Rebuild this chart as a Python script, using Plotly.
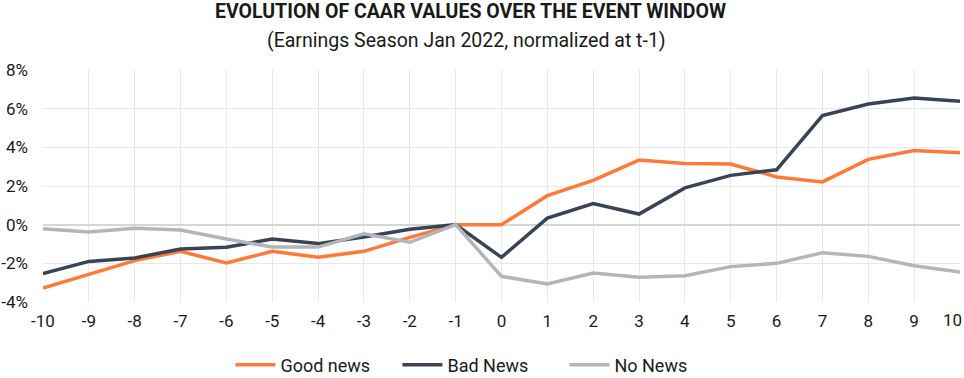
import plotly.graph_objects as go

event_days = list(range(-10, 11))
good_news = [-3.28, -2.59, -1.86, -1.38, -1.98, -1.38, -1.69, -1.38, -0.66, 0.0, 0.0,
             1.50, 2.29, 3.34, 3.17, 3.14, 2.47, 2.21, 3.38, 3.84, 3.72]
bad_news = [-2.53, -1.90, -1.72, -1.26, -1.17, -0.74, -0.98, -0.64, -0.24, 0.0, -1.69,
            0.34, 1.09, 0.55, 1.90, 2.55, 2.84, 5.64, 6.24, 6.55, 6.38]
no_news = [-0.21, -0.38, -0.19, -0.28, -0.74, -1.16, -1.16, -0.47, -0.91, 0.0, -2.67,
           -3.07, -2.50, -2.72, -2.64, -2.17, -2.00, -1.45, -1.64, -2.12, -2.45]
y_ticks = [-4, -2, 0, 2, 4, 6, 8]
y_tick_labels = ["-4%", "-2%", "0%", "2%", "4%", "6%", "8%"]
x_tick_labels = [str(d) for d in event_days]

fig = go.Figure()
fig.add_trace(go.Scatter(x=event_days, y=good_news, mode="lines", name="Good news",
                         line=dict(color="#FF7A38", width=3.5)))
fig.add_trace(go.Scatter(x=event_days, y=bad_news, mode="lines", name="Bad News",
                         line=dict(color="#3A4354", width=3.5)))
fig.add_trace(go.Scatter(x=event_days, y=no_news, mode="lines", name="No News",
                         line=dict(color="#B2B5BB", width=3.5)))

# last tick label is drawn inside the right edge, as in the original
axis_labels = x_tick_labels[:-1] + [""]

fig.update_layout(
    width=964, height=378,
    margin=dict(l=43, r=4, t=70, b=76),
    paper_bgcolor="white", plot_bgcolor="white",
    font=dict(family="Roboto", size=17, color="#1a1a1a"),
    xaxis=dict(range=[-10, 10], tickvals=event_days, ticktext=axis_labels, showgrid=True,
               gridcolor="#e8e8e8", gridwidth=1, zeroline=False, showline=False,
               ticks="", tickfont=dict(size=17), automargin=False,
               ticklabeloverflow="allow", ticklabelstandoff=7),
    yaxis=dict(range=[-4, 8], tickvals=y_ticks, ticktext=y_tick_labels, showgrid=True,
               gridcolor="#e8e8e8", gridwidth=1, zeroline=True, zerolinecolor="#d6d6d6",
               zerolinewidth=2, showline=False, ticks="", tickfont=dict(size=17),
               automargin=False, ticklabelstandoff=14, ticklabeloverflow="allow"),
    legend=dict(orientation="h", x=0.2044, xanchor="left",
                yref="container", y=1 - 365 / 378, yanchor="middle",
                font=dict(size=18), itemwidth=40, entrywidth=112, traceorder="normal"),
    showlegend=True,
    annotations=[
        dict(text="<b>EVOLUTION OF CAAR VALUES OVER THE EVENT WINDOW</b>",
             xref="paper", yref="paper", x=0.5, y=1, xanchor="center", yanchor="middle",
             xshift=-31, yshift=(70 - 11), showarrow=False,
             font=dict(family="Roboto", size=19.5, color="#1a1a1a")),
        dict(text="(Earnings Season Jan 2022, normalized at t-1)",
             xref="paper", yref="paper", x=0.5, y=1, xanchor="center", yanchor="middle",
             xshift=-35, yshift=(70 - 40), showarrow=False,
             font=dict(family="Roboto", size=19.5, color="#1a1a1a")),
        dict(text=x_tick_labels[-1], xref="x", yref="paper", x=event_days[-1], y=0,
             xanchor="right", yanchor="middle", xshift=4, yshift=-18, showarrow=False,
             font=dict(family="Roboto", size=17, color="#1a1a1a")),
    ],
)

fig.write_html("out.html", config={"displayModeBar": False},
               post_script="document.body.style.margin='0';document.body.style.padding='0';")
